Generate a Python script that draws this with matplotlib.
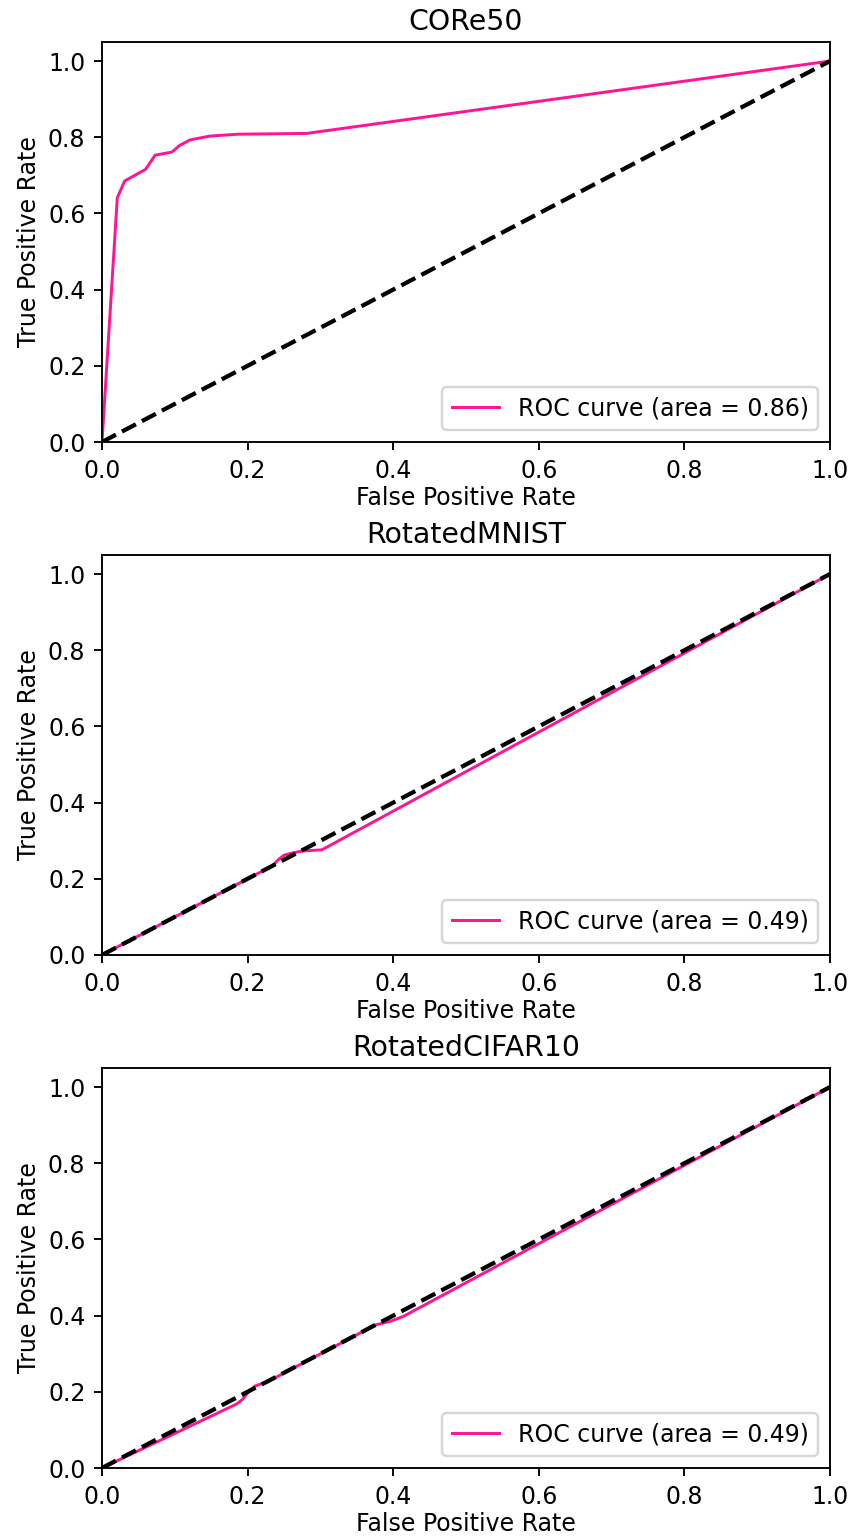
import matplotlib
matplotlib.use("Agg")
import matplotlib.pyplot as plt

titles = ["CORe50", "RotatedMNIST", "RotatedCIFAR10"]
aucs = [0.86, 0.49, 0.49]

fpr_core50 = [0.0, 0.021, 0.031, 0.060, 0.073, 0.096, 0.107, 0.121, 0.148, 0.187, 0.281, 1.0]
tpr_core50 = [0.0, 0.641, 0.685, 0.716, 0.753, 0.761, 0.779, 0.793, 0.803, 0.808, 0.810, 1.0]

fpr_mnist = [0.0, 0.235, 0.242, 0.250, 0.262, 0.275, 0.302, 1.0]
tpr_mnist = [0.0, 0.235, 0.250, 0.262, 0.268, 0.273, 0.276, 1.0]

fpr_cifar = [0.0, 0.185, 0.193, 0.200, 0.210, 0.228, 0.375, 0.385, 0.396, 0.414, 1.0]
tpr_cifar = [0.0, 0.168, 0.180, 0.197, 0.215, 0.227, 0.375, 0.380, 0.385, 0.398, 1.0]

curves = [(fpr_core50, tpr_core50), (fpr_mnist, tpr_mnist), (fpr_cifar, tpr_cifar)]

W, H = 856, 1537
dpi = 170
fig = plt.figure(figsize=(W / dpi, H / dpi), dpi=dpi)

left = 102 / W
width = 728 / W
height = 400 / H
bottoms_px = [442, 955, 1468]

for (fpr, tpr), title, auc, bpx in zip(curves, titles, aucs, bottoms_px):
    ax = fig.add_axes([left, (H - bpx) / H, width, height])
    ax.plot(fpr, tpr, color="#FF1493", lw=1.25, label=f"ROC curve (area = {auc:.2f})")
    ax.plot([0, 1], [0, 1], color="black", lw=1.8, linestyle="--")
    ax.set_xlim(0.0, 1.0)
    ax.set_ylim(0.0, 1.05)
    ax.set_xlabel("False Positive Rate", labelpad=1.5)
    ax.set_ylabel("True Positive Rate", labelpad=3)
    ax.set_title(title, pad=5)
    ax.legend(loc="lower right")

fig.savefig("out.png", dpi=dpi)
